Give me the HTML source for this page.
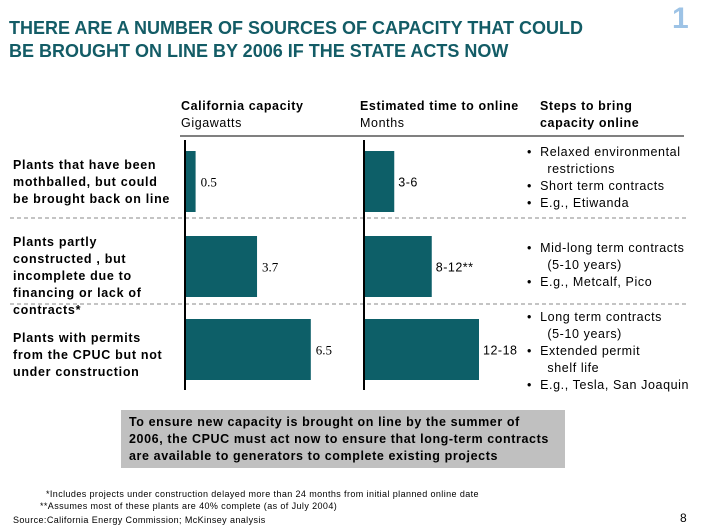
<!DOCTYPE html>
<html><head><meta charset="utf-8"><style>
body{margin:0;width:706px;height:529px;background:#fff;position:relative;overflow:hidden;font-family:"Liberation Sans",Arial,sans-serif;}
.a{position:absolute;white-space:nowrap;}
.t{color:#135c66;font-weight:bold;font-size:18px;line-height:23px;left:9px;top:17px;letter-spacing:0px}
.lab{font-weight:bold;font-size:12.5px;line-height:17px;color:#000;left:13px;letter-spacing:0.7px}
.hd{font-size:12.5px;line-height:17px;color:#000;letter-spacing:0.6px}
.bl{font-size:12.5px;line-height:17px;color:#000;letter-spacing:0.6px}
.fn{font-size:9px;color:#000;letter-spacing:0.4px}
</style></head><body>
<div class="a t">THERE ARE A NUMBER OF SOURCES OF CAPACITY THAT COULD<br>BE BROUGHT ON LINE BY 2006 IF THE STATE ACTS NOW</div>
<div class="a" style="left:672px;top:2px;font-size:30px;color:#9dc3e6;font-weight:bold">1</div>

<div class="a hd" style="left:181px;top:98px"><b>California capacity</b><br>Gigawatts</div>
<div class="a hd" style="left:360px;top:98px"><b>Estimated time to online</b><br>Months</div>
<div class="a hd" style="left:540px;top:98px"><b>Steps to bring<br>capacity online</b></div>

<div class="a lab" style="top:157px">Plants that have been<br>mothballed, but could<br>be brought back on line</div>
<div class="a lab" style="top:234px">Plants partly<br>constructed , but<br>incomplete due to<br>financing or lack of<br>contracts*</div>
<div class="a lab" style="top:330px">Plants with permits<br>from the CPUC but not<br>under construction</div>

<svg class="a" style="left:0;top:0" width="706" height="400">
<g id="g"></g>
</svg>

<div class="a bl" style="left:527px;top:144px">•&nbsp; Relaxed environmental<br>&nbsp;&nbsp;&nbsp;&nbsp; restrictions<br>•&nbsp; Short term contracts<br>•&nbsp; E.g., Etiwanda</div>
<div class="a bl" style="left:527px;top:240px">•&nbsp; Mid-long term contracts<br>&nbsp;&nbsp;&nbsp;&nbsp; (5-10 years)<br>•&nbsp; E.g., Metcalf, Pico</div>
<div class="a bl" style="left:527px;top:309px">•&nbsp; Long term contracts<br>&nbsp;&nbsp;&nbsp;&nbsp; (5-10 years)<br>•&nbsp; Extended permit<br>&nbsp;&nbsp;&nbsp;&nbsp; shelf life<br>•&nbsp; E.g., Tesla, San Joaquin</div>

<div class="a" style="left:121px;top:410px;width:444px;height:58px;background:#c0c0c0"></div>
<div class="a" style="left:129px;top:414px;font-size:12.5px;font-weight:bold;line-height:17px;letter-spacing:0.6px">To ensure new capacity is brought on line by the summer of<br>2006, the CPUC must act now to ensure that long-term contracts<br>are available to generators to complete existing projects</div>

<div class="a fn" style="left:46px;top:489px">*Includes projects under construction delayed more than 24 months from initial planned online date</div>
<div class="a fn" style="left:40px;top:501px">**Assumes most of these plants are 40% complete (as of July 2004)</div>
<div class="a fn" style="left:13px;top:515px">Source:California Energy Commission; McKinsey analysis</div>
<div class="a" style="left:680px;top:511px;font-size:12px">8</div>

<script>
const categories=["mothballed","partly-constructed","permits"];
const capacityValues=[0.5,3.7,6.5];
const capacityLabels=["0.5","3.7","6.5"];
const timeValues=[3.9,8.9,15.2];
const timeLabels=["3-6","8-12**","12-18"];
const NS="http://www.w3.org/2000/svg";
const g=document.getElementById('g');
function mk(t,a){const e=document.createElementNS(NS,t);for(const k in a)e.setAttribute(k,a[k]);g.appendChild(e);return e;}
const xCap=v=>186+v*19.2;
const xTime=v=>365+v*7.5;
const rowTop=[151,236,319], rowH=61;
let e;
e=mk('line',{x1:180,y1:136,x2:684,y2:136,stroke:'#000','stroke-width':1});


[218,304].forEach((y,i)=>{
 e=mk('line',{x1:10,y1:y,x2:686,y2:y,stroke:'#888','stroke-width':1,'stroke-dasharray':'4,3'});
 
 
});
categories.forEach((c,i)=>{
 const y=rowTop[i];
 e=mk('rect',{x:186,y:y,width:xCap(capacityValues[i])-186,height:rowH,fill:'#0d5f68'});
 
 
 e=mk('text',{x:xCap(capacityValues[i])+5,y:y+rowH/2+5,'font-size':13,'font-family':'Liberation Serif, serif'});
 e.textContent=capacityLabels[i];
 
 
 e=mk('rect',{x:365,y:y,width:xTime(timeValues[i])-365,height:rowH,fill:'#0d5f68'});
 
 
 e=mk('text',{x:xTime(timeValues[i])+4,y:y+rowH/2+5,'font-size':12.5,'font-family':'Liberation Sans, sans-serif','letter-spacing':0.5});
 e.textContent=timeLabels[i];
 
 
});
e=mk('line',{x1:185,y1:140,x2:185,y2:390,stroke:'#000','stroke-width':2});


e=mk('line',{x1:364,y1:140,x2:364,y2:390,stroke:'#000','stroke-width':2});


</script>
</body></html>
